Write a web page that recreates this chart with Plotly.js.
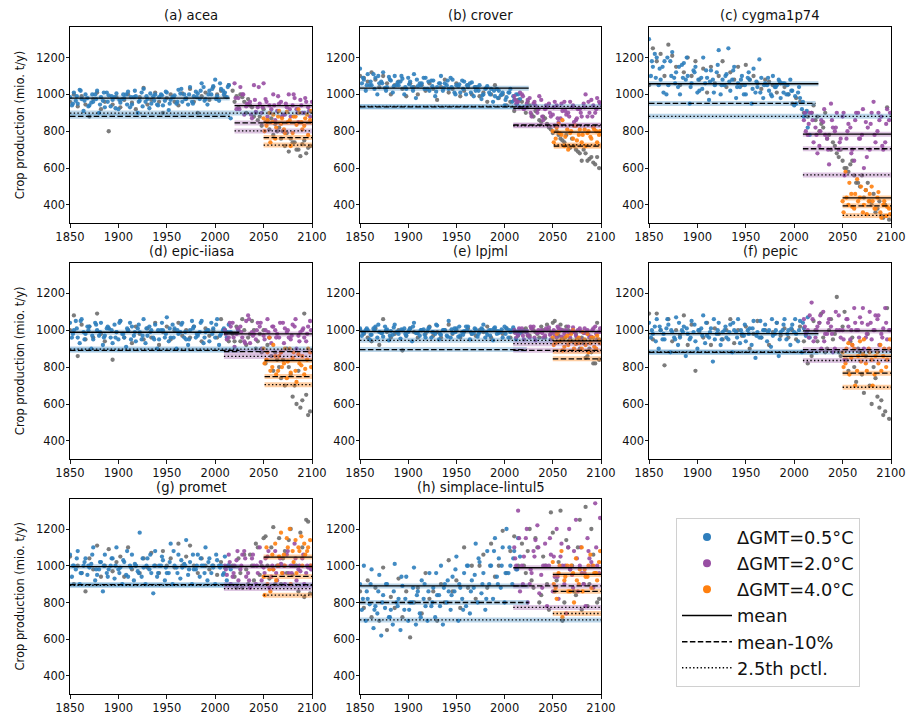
<!DOCTYPE html>
<html><head><meta charset="utf-8">
<script src="https://cdn.plot.ly/plotly-3.0.1.min.js"></script>
<style>html,body{margin:0;padding:0;background:#fff}#chart{width:910px;height:722px}</style>
</head><body><div id="chart"></div>
<script>
// ---------------- DATA ----------------
const panelTitles = ['(a) acea','(b) crover','(c) cygma1p74','(d) epic-iiasa','(e) lpjml','(f) pepic','(g) promet','(h) simplace-lintul5'];
const legendNames = ['ΔGMT=0.5°C','ΔGMT=2.0°C','ΔGMT=4.0°C','mean','mean-10%','2.5th pctl.'];
const xTicks = [1850,1900,1950,2000,2050,2100];
const yTicks = [400,600,800,1000,1200];

// year grids of the sampled points (first year of each member)
const blueYear0 = [1850,1852,1853];
const grayYear0 = [1850,2020];
const purpleYear0 = [2020,2010,2010,2010,2010,2010,2010,2010];
const orangeYear0 = [2050,2051];

// Blue points (ΔGMT=0.5°C window), three members
const blueA = [
 [985,1010,950,975,1000,940,960,1020,985,930,995,970,1005,955,980,1015,945,990,965,1030,975,950,1000,985,940,1010,970,995,1025,960,980,1040,990,1005,1060,975,1020,1045,990,1030,1010,1050],
 [1140,1080,1110,1050,1090,1060,1120,1040,1075,1100,1050,1085,1030,1070,1110,1045,1060,1090,1020,1075,1040,1100,1060,1030,1080,1050,1010,1070,1040,1065,1020,1050,1000,1045,1030,990,1020,1010,985,1030,970,1000],
 [1300,1150,1200,1080,1180,1050,1230,1120,1000,1170,1100,1060,1150,1020,1200,1090,1130,1050,1240,1080,1110,1020,1150,1060,1100,1000,1080,1140,1040,1090,1060,1020,1100,1050,980,1060,1000,1020,950,980,880,820],
 [1040,1000,960,1060,980,1020,950,1000,1040,970,1010,930,990,1050,960,1000,1020,940,990,1060,970,1000,1030,950,1000,1070,960,1010,980,1040,950,1000,1020,970,1050,990,940,1010,1060,980,1000,1030],
 [1010,985,1000,975,1020,990,965,1005,995,1030,980,1000,970,1010,1040,985,1000,960,1015,990,1025,975,1000,1050,985,1010,970,995,1020,980,1005,990,1030,975,1000,1015,985,960,1010,990,1000,975],
 [1040,980,1060,1000,950,1030,990,1070,960,1020,980,1050,940,1000,1080,970,1010,950,1040,990,960,1030,1000,1060,980,940,1010,1050,990,960,1030,1000,970,1040,990,1060,1000,1030,980,1050,1010,1070],
 [1060,1000,1080,960,1040,990,1100,950,1020,1060,980,1040,1100,990,1020,940,1060,1000,1180,990,1040,960,1080,1000,1030,960,1120,1000,1060,990,1140,1020,980,1060,1000,1100,1040,990,1030,1000,1050,1000],
 [900,1000,820,980,780,950,840,900,760,1010,820,890,940,800,990,860,920,780,960,880,840,1000,900,860,940,1050,880,960,1000,920,1120,1020,960,1080,1000,1150,1040,1100,1200,1000,1080,1150]
];
const blueB = [
 [940,965,1025,910,980,955,1000,900,965,1010,935,985,920,975,1000,930,985,900,1010,960,925,990,945,1000,965,915,985,950,1005,1000,945,960,1015,975,1040,945,1000,1080,965,1020,985,870],
 [1060,1020,1050,1110,1000,1070,1035,1095,1010,1050,1070,1000,1090,1040,980,1060,1090,1030,1075,990,1060,1020,1050,1090,1010,1045,1075,1000,1060,990,1040,975,1030,1010,960,1030,995,940,1010,960,1000,975],
 [1100,1220,1050,1150,1000,1180,1090,1040,1160,1080,950,1130,1010,1090,1060,970,1080,1120,1000,1050,1250,1080,980,1040,1000,1090,950,1010,1190,980,1050,1000,1040,1080,1060,1000,1080,940,1010,920,900,780],
 [960,1050,930,990,1020,900,1040,970,920,1010,960,1030,950,980,910,1040,970,1010,950,930,1020,960,900,1000,960,940,1030,900,990,960,920,1050,960,990,930,1000,1040,960,920,1000,960,990],
 [970,1000,950,1010,960,985,1020,945,975,990,955,1010,990,940,985,970,1005,995,960,980,950,1000,970,960,1010,965,990,1020,950,985,965,1010,960,1000,945,980,990,1020,960,1000,950,985],
 [960,1020,900,950,1010,880,960,920,1000,860,950,990,900,1010,930,960,830,980,920,1000,950,880,990,930,970,1000,920,850,960,1000,940,910,980,860,1000,950,920,990,940,880,970,960],
 [940,980,900,1000,950,1010,920,980,860,960,1000,930,980,900,950,1000,920,970,940,900,980,850,940,1000,920,960,900,990,930,1010,950,900,980,940,1000,920,960,900,1000,950,920,980],
 [760,700,790,660,740,620,770,720,680,800,650,760,700,800,680,740,820,700,780,720,840,680,800,760,860,700,820,780,740,880,800,850,760,900,820,940,880,800,960,900,980,1050]
];
const blueC = [
 [950,990,1020,965,935,1000,975,945,1010,960,990,925,970,1000,945,985,1020,960,935,990,1005,965,940,995,1015,950,985,960,1030,975,1000,950,985,1020,965,1000,1030,975,1060,1000,1040],
 [1090,1050,1070,1030,1100,1060,1020,1080,1045,1065,1100,1040,1055,1020,1080,1050,1030,1070,1045,1015,1060,1035,1075,1040,1000,1055,1030,1050,1010,1040,1020,995,1035,1000,1020,980,1000,970,1010,990,950],
 [1180,1090,1140,1010,1200,1100,1060,1150,1090,1200,1040,1120,1080,1030,1130,1070,1010,1160,1050,1100,1070,1130,1040,1080,1050,1120,1030,1070,1010,1050,1090,990,1040,1070,1010,1050,1020,990,1040,960,910],
 [980,1010,1050,950,1000,970,1030,990,960,1020,1000,960,1040,980,1010,950,990,1030,970,1010,990,950,1000,1040,980,1010,960,1000,1030,990,950,1010,980,1040,960,1000,980,1030,970,1010,990],
 [990,1010,975,1000,1030,985,1000,970,1015,990,1005,980,1000,1020,985,1000,975,1010,990,1030,980,1000,965,1005,990,1020,975,1000,990,1010,980,1005,990,970,1010,995,1005,980,1000,1015,990],
 [1000,940,1020,980,1060,1000,950,1040,990,1010,960,1030,1000,970,1040,990,1060,1000,950,1020,990,1040,960,1000,1030,980,1010,970,1050,1000,990,1060,1000,950,1030,980,1010,1060,1000,1040,990],
 [1000,1040,960,1020,1000,1060,980,1020,1000,940,1040,1000,960,1030,1080,990,1010,960,1040,1000,1060,1000,960,1050,990,1020,1080,960,1030,1000,980,1060,1000,1040,960,1020,1000,1060,990,960,1000],
 [820,860,900,760,860,800,900,720,860,780,940,820,760,880,840,720,900,860,800,960,780,880,920,840,980,900,760,1000,860,950,1040,900,820,1000,1080,900,1000,960,1100,1040,980]
];
// Gray points (outside the warming windows)
const grayMain = [
 [960,1000,935,990,945,880,975,1010,920,960,800,945,985,930,970,1000,955,920,985,1035,945,970,1010,960,900,980,1000,960,940,1005,975,1030,960,900,990,1010,970,1040,1000,1020,990,1050,1020,990,1000,960,975,930,900,880,920,860,870,840,820,800,790,760,740,700,730,680,720],
 [1100,1090,1070,1120,1080,1040,1100,1060,1000,1050,1070,1030,990,1060,1040,1000,1050,1020,1060,1030,970,1040,1080,1010,1030,1060,990,1020,1050,1000,1040,990,1010,960,1000,1050,980,1000,940,960,910,970,960,900,940,880,920,850,870,820,790,800,760,740,720,760,700,680,700,640,660,620,600],
 [1050,1250,1180,1220,1100,1270,1210,1150,1050,1120,1200,1100,1180,1080,1140,1010,1150,1060,1100,1180,1040,1120,1080,1150,1050,1160,1080,1100,1060,1030,1080,1070,1050,1010,1060,1040,1000,950,980,960,900,880,900,860,800,820,760,700,720,660,640,600,620,560,520,560,480,420,460,380,340,400,320],
 [1000,1080,860,1030,950,1020,960,1090,980,940,1010,840,990,1050,960,1000,930,1020,980,950,1010,960,1040,920,990,1020,950,1000,1040,970,1000,960,1020,980,940,1010,970,1000,960,1060,1000,940,980,1020,940,1000,960,1050,900,980,1000,920,860,880,800,840,900,760,700,780,620,650,560],
 [1000,980,960,940,1010,920,1060,990,960,980,1000,890,970,1010,990,960,1000,980,1020,970,990,960,1000,1030,980,1000,960,990,1010,980,970,1000,990,1020,960,1000,990,980,1010,960,990,970,990,1010,970,1000,980,1020,960,1000,1040,990,1030,960,1000,940,980,900,930,860,880,820,840],
 [1090,950,1090,1000,810,1060,940,1000,970,1080,920,1030,780,990,960,1040,920,1010,980,950,1000,1060,930,1000,970,1020,900,980,1050,960,1000,920,990,1040,970,1010,960,1000,950,1020,940,820,860,1000,1040,960,900,1060,980,880,1020,840,940,800,900,760,860,700,800,640,620,560,520],
 [1050,900,1000,960,860,1040,980,1110,940,1000,1090,970,1020,1050,940,1100,980,1000,960,1040,990,1070,1000,960,1080,1000,1040,990,1120,1000,1050,1110,1000,960,1040,1000,980,1000,950,1020,990,1000,1000,880,960,1060,900,1000,1120,950,1150,1000,1100,900,1150,1040,960,1200,1000,860,1100,1250,850],
 [860,770,920,720,880,700,990,650,830,770,930,720,860,610,800,880,740,960,820,860,700,900,800,1030,860,920,770,1100,880,1000,820,1000,1060,880,1120,940,1000,1190,960,1080,1160,1000,1120,960,1200,880,1100,840,1000,760,1180,920,1300,800,1100,1000,840,1250,900,780,1200,960,820]
];
const grayLate = [
 [960,930,985,900,940,880,860,830,850,810,780,800,760,720,690,740,700,665,750,710],
 [930,960,890,910,860,880,840,810,830,780,750,780,710,720,690,640,680,650,630,660],
 [940,880,840,900,780,740,680,700,600,580,640,520,500,440,520,400,360,420,330,930],
 [940,1000,1060,920,980,1000,940,880,820,960,780,840,740,700,800,640,600,580,1090,540],
 [1000,970,1010,990,960,1000,1030,980,1050,970,1000,1020,950,990,930,960,850,900,820,1040],
 [1050,940,1090,880,1000,950,1180,860,1100,780,960,720,880,660,980,600,740,580,540,1120],
 [940,1040,880,980,1060,920,1100,1000,1160,930,1210,1000,900,1080,1140,950,1000,1180,830,1240],
 [1000,1080,920,1150,800,1050,900,1290,860,1020,700,1140,980,860,1100,760,1320,900,1060,800]
];
// Purple points (ΔGMT=2.0°C window), three members
const purpleA = [
 [1060,980,1000,935,960,1050,930,900,975,940,1000,910,960,890,1000,940,920,970,900,930,960],
 [990,960,1000,930,980,950,900,970,920,950,890,940,870,960,900,930,860,920,950,880,970,900,960],
 [860,780,900,820,720,850,760,950,800,700,880,760,820,640,900,780,850,700,960,800,880,740,860],
 [1000,960,1040,980,1020,940,1080,990,950,1020,970,1060,930,1000,960,1040,990,950,1020,970,1000,940,1050],
 [1000,975,1010,990,960,1020,985,1000,970,1015,990,960,1005,980,1020,995,970,1010,985,1000,965,1020,990],
 [1060,1000,1150,960,1040,1100,980,1020,900,1080,1000,1060,950,1120,1000,1040,960,1100,1000,1060,980,1120,1000],
 [1000,1060,940,1030,980,1080,960,1040,900,1100,990,1050,940,1080,1000,960,1060,1000,1120,980,1040,960,1000],
 [1100,1300,1000,1150,900,1080,1220,950,1120,1000,860,1200,1050,900,1100,950,1250,1000,900,1150,1020,1340,960]
];
const purpleB = [
 [920,1040,890,945,870,905,950,1060,880,920,860,950,890,930,880,980,850,900,960,880],
 [950,1010,920,970,880,940,990,860,930,880,960,850,910,890,960,850,920,880,1000,900,940,980],
 [800,900,740,680,860,780,620,820,900,760,560,840,700,900,760,600,820,900,740,860,700,920],
 [950,1020,910,1000,960,1050,930,980,1040,900,1000,960,1020,980,880,1010,960,1030,900,990,960,1020],
 [960,1000,950,975,1010,945,990,960,1000,950,975,1010,955,995,960,990,1000,950,985,960,1010,950],
 [980,1080,940,1020,900,980,1060,880,1000,960,840,1020,920,1000,1070,900,1030,950,1080,920,1010,950],
 [950,900,1000,920,1060,940,880,1000,960,920,1040,880,980,920,1010,900,960,1000,920,970,900,990],
 [1000,860,1050,800,960,1140,850,1000,780,1060,940,820,1000,740,980,1080,860,960,780,1040,880,1000]
];
const purpleC = [
 [980,920,1000,950,890,970,1040,930,960,900,940,990,880,950,920,1000,900,940,980,910],
 [970,930,990,950,900,960,920,880,940,900,930,870,950,910,880,940,870,900,930,960,880,920,950],
 [900,840,860,780,800,920,700,860,820,740,900,800,680,860,760,920,660,840,780,900,720,840,900],
 [980,1040,960,1010,990,930,1060,970,1000,1040,950,990,1020,960,1040,930,1000,970,1060,940,1010,980,1000],
 [985,1010,970,995,1020,960,1000,985,1010,975,1000,1020,965,1000,985,1015,960,995,1010,975,1000,980,1010],
 [1020,960,1060,1000,1080,940,1040,980,1100,1000,950,1060,1000,1040,960,1120,980,1040,1000,1080,960,1040,1000],
 [980,1020,960,1080,1000,1040,920,1060,1000,1020,960,1080,1000,960,1040,1000,1080,960,1040,1000,1060,1000,980],
 [1040,1150,900,1200,980,1050,1100,880,1000,1150,1050,940,1120,1000,1200,880,1040,1100,960,1080,1000,1100,1260]
];
// Orange points (ΔGMT=4.0°C window), two members
const orangeA = [
 [870,830,900,850,760,880,840,810,905,860,790,880,920,850,830,890,860],
 [800,760,840,780,720,810,790,760,830,780,740,810,790,770,820,800,780],
 [420,580,400,460,380,540,440,360,480,420,500,380,440,360,400,340,380],
 [900,840,960,800,860,780,880,820,740,900,850,780,870,810,760,840,880],
 [960,930,990,950,910,970,940,1000,925,960,900,950,980,930,960,900,950],
 [880,820,930,850,900,780,940,870,820,900,840,760,880,920,860,800,900],
 [940,1100,980,1060,1120,1000,1180,1060,1150,1200,1080,1140,1100,1160,1120,1080,1140],
 [1020,880,960,1080,920,1000,860,960,1040,900,1100,980,940,1060,1000,960,1020]
];
const orangeB = [
 [800,860,740,890,820,910,870,790,850,720,880,835,900,810,870,780,910],
 [740,820,790,860,770,700,800,830,750,810,780,720,800,760,810,740,800],
 [360,440,520,390,460,420,500,400,350,460,420,380,470,330,420,390,350],
 [820,880,780,920,760,860,800,900,830,770,880,720,820,860,790,900,800],
 [920,980,940,890,960,920,980,900,950,930,990,920,880,960,910,970,930],
 [800,900,760,920,700,860,830,950,780,880,700,860,820,780,900,840,950],
 [840,900,860,980,920,1050,960,1000,1100,900,1020,960,1080,1000,1060,1100,1000],
 [900,820,1000,720,940,860,1000,800,920,980,860,940,1000,880,960,920,1080]
];

// Statistics lines: [0.5°C, 2.0°C, 4.0°C] window for each model
const meanVals  = [[980,939,848],[1034,924,795],[1058,784,438],[989,980,836],[993,993,942],[982,996,858],[995,996,1047],[890,989,953]];
const mean10Vals= [[881,845,766],[932,834,719],[951,705,395],[891,884,749],[895,891,845],[880,895,767],[897,897,942],[800,890,861]];
const pctlVals  = [[899,802,725],[935,830,726],[881,563,343],[898,858,705],[945,927,885],[882,836,691],[894,876,840],[705,773,740]];
// windows (years) of the lines
const blueEnd     = [2015,2025,2025,2025,2025,2025,2025,2025];
const blueDashEnd = [2015,2025,2022,2025,2023,2025,2025,2025];
const purpleFrom  = [2020,2009,2009,2009,2009,2009,2009,2009];
const orangeFrom  = [2050,2051,2050,2051,2050,2050,2050,2050];
const firstYear = 1850, lastYear = 2100;

// ---------------- STYLE ----------------
const COL = {blue:'#2e7ebc', purple:'#984ea3', orange:'#ff7f0e', gray:'#6e6e6e'};
const BAND = {blue:'rgba(46,126,188,0.33)', purple:'rgba(152,78,163,0.33)', orange:'rgba(255,127,14,0.38)'};
const FONT = 'DejaVu Sans, Liberation Sans, sans-serif';
const W = 910, H = 722;
const colPx = [[70,312],[360,601],[649,891]];
const rowPx = [[27,223],[262.7,459],[498.5,694]];
const DASH = '5.5px,2.4px', DOT = '1.4px,2.3px';
const STEP = 4, OSTEP = 3;

const traces = [];
const layout = {
  width: W, height: H, margin:{l:0,r:0,t:0,b:0},
  paper_bgcolor:'#fff', plot_bgcolor:'#fff',
  font:{family:FONT, color:'#111', size:11.5},
  showlegend:true,
  legend:{x:676/W, y:1-518/H, xanchor:'left', yanchor:'top', bgcolor:'#fff',
          bordercolor:'#d0d0d0', borderwidth:1, font:{size:17.8, family:FONT, color:'#111'},
          tracegroupgap:0, itemwidth:50},
  annotations:[]
};

function grid(y0, step, n){ const a=[]; for(let i=0;i<n;i++) a.push(y0+i*step); return a; }

for (let p=0; p<8; p++){
  const r = Math.floor(p/3), c = p%3;
  const sfx = p===0 ? '' : String(p+1);
  const xa = 'x'+sfx, ya = 'y'+sfx;
  const axCommon = {showline:true, mirror:true, linecolor:'#000', linewidth:1, ticks:'outside',
    ticklen:3.5, tickwidth:0.9, tickcolor:'#000', showgrid:false, zeroline:false,
    tickfont:{size:11.5, family:FONT, color:'#111'}};
  layout['xaxis'+sfx] = Object.assign({}, axCommon, {domain:[colPx[c][0]/W, colPx[c][1]/W], anchor:ya,
    range:[firstYear,lastYear], tickvals:xTicks, ticktext:xTicks.map(String)});
  layout['yaxis'+sfx] = Object.assign({}, axCommon, {domain:[1-rowPx[r][1]/H, 1-rowPx[r][0]/H], anchor:xa,
    range:[302,1366], tickvals:yTicks, ticktext:yTicks.map(String), ticklabelstandoff:-2});
  if (c===0) layout['yaxis'+sfx].title = {text:'Crop production (mio. t/y)', font:{size:11.5, family:FONT, color:'#111'}, standoff:8};
  layout.annotations.push({text:panelTitles[p], xref:'paper', yref:'paper',
    x:(colPx[c][0]+colPx[c][1])/2/W, y:1-rowPx[r][0]/H, xanchor:'center', yanchor:'bottom', yshift:2,
    showarrow:false, font:{size:13.2, family:FONT, color:'#111'}});

  const pts = (ys, y0, step, color) => traces.push({type:'scatter', mode:'markers', xaxis:xa, yaxis:ya,
    x:grid(y0, step, ys.length), y:ys, showlegend:false, hoverinfo:'skip', cliponaxis:true,
    marker:{size:4.3, color:color, opacity:0.9, line:{width:0}}});
  pts(grayMain[p], grayYear0[0], STEP, COL.gray);
  pts(grayLate[p], grayYear0[1], STEP, COL.gray);
  pts(blueA[p], blueYear0[0], STEP, COL.blue);
  pts(blueB[p], blueYear0[1], STEP, COL.blue);
  pts(blueC[p], blueYear0[2], STEP, COL.blue);
  pts(purpleA[p], purpleYear0[p], STEP, COL.purple);
  pts(purpleB[p], purpleYear0[p]+2, STEP, COL.purple);
  pts(purpleC[p], purpleYear0[p]+1, STEP, COL.purple);
  pts(orangeA[p], orangeYear0[0], OSTEP, COL.orange);
  pts(orangeB[p], orangeYear0[1], OSTEP, COL.orange);

  // line segments: [x0, x1, value, dash, bandColor]
  const segs = [
    [firstYear, blueEnd[p], meanVals[p][0], 'solid', BAND.blue],
    [firstYear, blueDashEnd[p], mean10Vals[p][0], DASH, BAND.blue],
    [firstYear, lastYear, pctlVals[p][0], DOT, BAND.blue],
    [purpleFrom[p], lastYear, meanVals[p][1], 'solid', BAND.purple],
    [purpleFrom[p], lastYear, mean10Vals[p][1], DASH, BAND.purple],
    [purpleFrom[p], lastYear, pctlVals[p][1], DOT, BAND.purple],
    [orangeFrom[p], lastYear, meanVals[p][2], 'solid', BAND.orange],
    [orangeFrom[p], lastYear, mean10Vals[p][2], DASH, BAND.orange],
    [orangeFrom[p], lastYear, pctlVals[p][2], DOT, BAND.orange]
  ];
  segs.forEach(s => traces.push({type:'scatter', mode:'lines', xaxis:xa, yaxis:ya, x:[s[0],s[1]], y:[s[2],s[2]],
    showlegend:false, hoverinfo:'skip', line:{color:s[4], width:5}}));
  segs.forEach(s => traces.push({type:'scatter', mode:'lines', xaxis:xa, yaxis:ya, x:[s[0],s[1]], y:[s[2],s[2]],
    showlegend:false, hoverinfo:'skip', line:{color:'#000', width:1.3, dash:s[3]}}));
}

// legend entries
[[COL.blue,0],[COL.purple,1],[COL.orange,2]].forEach(([col,i]) => traces.push({type:'scatter', mode:'markers',
  x:[null], y:[null], name:legendNames[i], marker:{size:8, color:col}, showlegend:true}));
[['solid',3],[DASH,4],[DOT,5]].forEach(([d,i]) => traces.push({type:'scatter', mode:'lines',
  x:[null], y:[null], name:legendNames[i], line:{color:'#000', width:1.5, dash:d}, showlegend:true}));

Plotly.newPlot('chart', traces, layout, {staticPlot:true, displayModeBar:false});
</script>
</body></html>
